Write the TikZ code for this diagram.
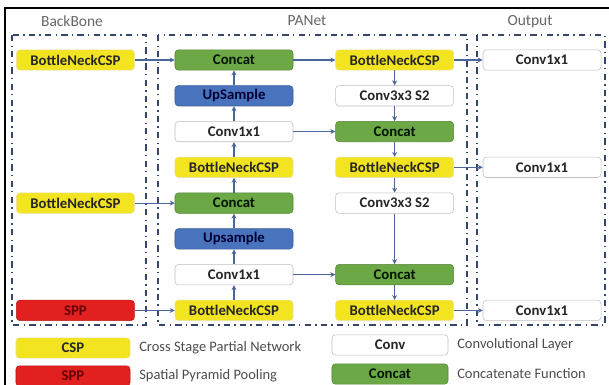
\documentclass[tikz,border=0pt]{standalone}
\usepackage{fontspec}
\setmainfont{Carlito}
\usepackage{xcolor}
\usepackage{tikz}
\usetikzlibrary{arrows.meta, positioning}
\definecolor{CspYellow}{HTML}{F2E420}
\definecolor{CatGreen}{HTML}{6CA845}
\definecolor{UpBlue}{HTML}{4A73BE}
\definecolor{SppRed}{HTML}{E2201F}
\definecolor{LinkBlue}{HTML}{4A659A}
\definecolor{FrameNavy}{HTML}{34466A}

\begin{document}
\begin{tikzpicture}[
    x=0.025cm, y=-0.025cm,
    every node/.style={font=\fontsize{10.5}{12}\selectfont},
    layer/.style={
      rounded corners=2.5pt, minimum width=2.95cm, minimum height=0.51cm,
      inner sep=1pt, font=\fontsize{10.5}{12}\selectfont\bfseries
    },
    csp/.style={layer, draw=CspYellow!80!black!40, fill=CspYellow, text=black!85},
    cat/.style={layer, draw=CatGreen!80!black, fill=CatGreen, text=black!80!green!40!black},
    up/.style={layer, draw=UpBlue!80!black, fill=UpBlue, text=blue!20!black},
    spp/.style={layer, draw=SppRed!80!black, fill=SppRed, text=red!40!black},
    conv/.style={layer, draw=black!25, fill=white, text=black!85},
    link/.style={draw=LinkBlue, line width=0.8pt, -{Stealth[length=3.5pt,width=3.5pt]}},
    zone/.style={draw=FrameNavy, line width=1.2pt,
      dash pattern=on 4.5pt off 3pt on 1pt off 3pt},
    head/.style={text=black!60, font=\fontsize{11}{13}\selectfont},
    note/.style={text=black!70, anchor=west, font=\fontsize{10.3}{12}\selectfont},
    node distance=0.37cm
  ]
    \useasboundingbox (0,0) rectangle (609,385);
    % frame of the figure
    \draw[black, line width=1pt] (5,385) -- (5,8) -- (609,8);

    % regions
    \draw[zone] (12,35) rectangle (146,325);
    \draw[zone] (158,35) rectangle (467,325);
    \draw[zone] (477,35) rectangle (605,325);
    \node[head] (tbb) at (72,21) {BackBone};
    \node[head] (tpa) at (307,21) {PANet};
    \node[head] (tout) at (530,22) {Output};

    % PANet, upward path
    \node[cat] (c1) at (234,60) {Concat};
    \node[up, below=of c1] (u1) {UpSample};
    \node[conv, below=of u1] (v1) {Conv1x1};
    \node[csp, below=of v1] (b1) {BottleNeckCSP};
    \node[cat, below=of b1] (c2) {Concat};
    \node[up, below=of c2] (u2) {Upsample};
    \node[conv, below=of u2] (v2) {Conv1x1};
    \node[csp, below=of v2] (b2) {BottleNeckCSP};

    % backbone
    \node[csp, left=1cm of c1] (bb1) {BottleNeckCSP};
    \node[csp, left=1cm of c2] (bb2) {BottleNeckCSP};
    \node[spp, left=1cm of b2] (sp) {SPP};

    % PANet, downward path
    \node[csp, right=1.05cm of c1] (d1) {BottleNeckCSP};
    \node[conv, right=1.05cm of u1] (s1) {Conv3x3 S2};
    \node[cat, right=1.05cm of v1] (e1) {Concat};
    \node[csp, right=1.05cm of b1] (d2) {BottleNeckCSP};
    \node[conv, right=1.05cm of c2] (s2) {Conv3x3 S2};
    \node[cat, right=1.05cm of v2] (e2) {Concat};
    \node[csp, right=1.05cm of b2] (d3) {BottleNeckCSP};

    % outputs
    \node[conv, right=0.72cm of d1] (o1) {Conv1x1};
    \node[conv, right=0.72cm of d2] (o2) {Conv1x1};
    \node[conv, right=0.72cm of d3] (o3) {Conv1x1};

    % connections
    \draw[link] (bb1) -- (c1);
    \draw[link] (bb2) -- (c2);
    \draw[link] (sp) -- (b2);
    \draw[link] (b2) -- (v2);
    \draw[link] (v2) -- (u2);
    \draw[link] (u2) -- (c2);
    \draw[link] (c2) -- (b1);
    \draw[link] (b1) -- (v1);
    \draw[link] (v1) -- (u1);
    \draw[link] (u1) -- (c1);
    \draw[link] (c1) -- (d1);
    \draw[link] (v1) -- (e1);
    \draw[link] (v2) -- (e2);
    \draw[link] (d1) -- (s1);
    \draw[link] (s1) -- (e1);
    \draw[link] (e1) -- (d2);
    \draw[link] (d2) -- (s2);
    \draw[link] (s2) -- (e2);
    \draw[link] (e2) -- (d3);
    \draw[link] (d1) -- (o1);
    \draw[link] (d2) -- (o2);
    \draw[link] (d3) -- (o3);

    % legend
    \node[csp, minimum width=2.85cm] (kcsp) at (73,348) {CSP};
    \node[spp, minimum width=2.85cm] (kspp) at (73,376) {SPP};
    \node[conv, minimum width=2.9cm] (kconv) at (390,345) {Conv};
    \node[cat, minimum width=2.9cm] (kcat) at (390,374) {Concat};
    \node[note, right=0.1cm of kcsp] (ncsp) {Cross Stage Partial Network};
    \node[note, right=0.1cm of kspp] (nspp) {Spatial Pyramid Pooling};
    \node[note, right=0.1cm of kconv] (nconv) {Convolutional Layer};
    \node[note, right=0.1cm of kcat] (ncat) {Concatenate Function};
  \end{tikzpicture}
\end{document}
